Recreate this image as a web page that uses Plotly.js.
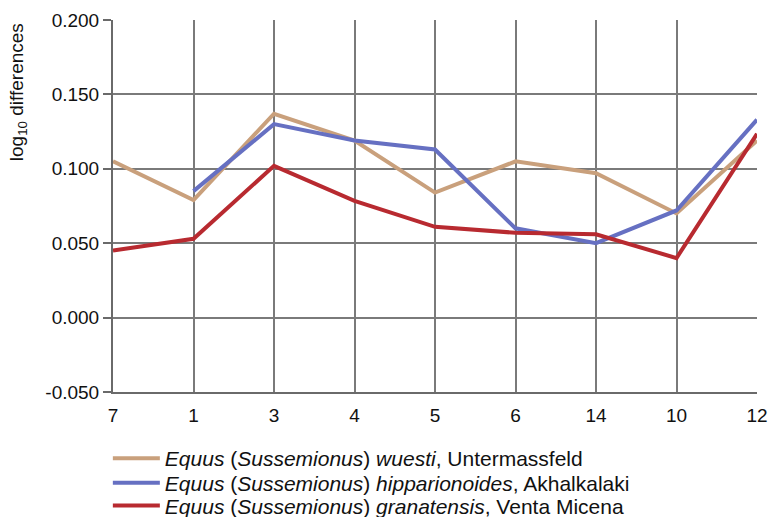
<!DOCTYPE html>
<html>
<head>
<meta charset="utf-8">
<script src="https://cdn.plot.ly/plotly-3.0.1.min.js"></script>
<style>html,body{margin:0;padding:0;background:#fff;}#chart{width:771px;height:517px;}</style>
</head>
<body>
<div id="chart"></div>
<script>
const categories = ["7", "1", "3", "4", "5", "6", "14", "10", "12"];
const wuesti = [0.105, 0.079, 0.137, 0.119, 0.084, 0.105, 0.097, 0.070, 0.119];
const hipparionoides = [null, 0.085, 0.130, 0.119, 0.113, 0.060, 0.050, 0.072, 0.133];
const granatensis = [0.045, 0.053, 0.102, 0.0785, 0.061, 0.057, 0.056, 0.040, 0.1235];
const yTicks = [-0.05, 0, 0.05, 0.1, 0.15, 0.2];
const yTickText = ["-0.050", "0.000", "0.050", "0.100", "0.150", "0.200"];
const names = [
  "<i>Equus</i> (<i>Sussemionus</i>) <i>wuesti</i>, Untermassfeld",
  "<i>Equus</i> (<i>Sussemionus</i>) <i>hipparionoides</i>, Akhalkalaki",
  "<i>Equus</i> (<i>Sussemionus</i>) <i>granatensis</i>, Venta Micena"
];
const colors = ["#C9A07C", "#6670C2", "#B82A30"];
const series = [wuesti, hipparionoides, granatensis];
const legendIds = ["legend", "legend2", "legend3"];
const data = series.map((s, i) => ({
  x: categories, y: s, name: names[i], type: "scatter", mode: "lines",
  line: {color: colors[i], width: 4}, connectgaps: false, legend: legendIds[i]
}));
const legendTops = [-0.1237, -0.1895, -0.251];
const legendBase = {x: -0.008, xanchor: "left", yanchor: "top", orientation: "v",
  font: {size: 21, color: "#111"}, itemwidth: 47, bgcolor: "rgba(0,0,0,0)"};
const layout = {
  width: 771, height: 517,
  margin: {l: 113, r: 14, t: 20, b: 125, autoexpand: false},
  paper_bgcolor: "#fff", plot_bgcolor: "#fff",
  font: {family: "Liberation Sans, Arial, sans-serif", color: "#111", size: 19},
  showlegend: true,
  xaxis: {type: "category", range: [0, 8], showgrid: true, gridcolor: "#7a7a7a", gridwidth: 2,
    showline: true, linecolor: "#6a6a6a", linewidth: 2, ticks: "outside", ticklen: 5,
    tickcolor: "rgba(0,0,0,0)", tickfont: {size: 19},
    zeroline: false, automargin: false, fixedrange: true},
  yaxis: {range: [-0.05, 0.2], tickvals: yTicks, ticktext: yTickText, showgrid: true,
    gridcolor: "#7a7a7a", gridwidth: 2, showline: true, linecolor: "#6a6a6a", linewidth: 2,
    ticks: "outside", ticklen: 8, tickcolor: "#6a6a6a", tickwidth: 2, zeroline: false,
    tickfont: {size: 19}, automargin: false},
  annotations: [{text: "log<sub>10</sub> differences", xref: "paper", yref: "paper",
    x: -0.1475, y: 0.806, xanchor: "center", yanchor: "middle", textangle: -90,
    showarrow: false, font: {size: 19, color: "#111"}}]
};
legendIds.forEach((id, i) => { layout[id] = Object.assign({}, legendBase, {y: legendTops[i]}); });
Plotly.newPlot("chart", data, layout, {staticPlot: true});
</script>
</body>
</html>
